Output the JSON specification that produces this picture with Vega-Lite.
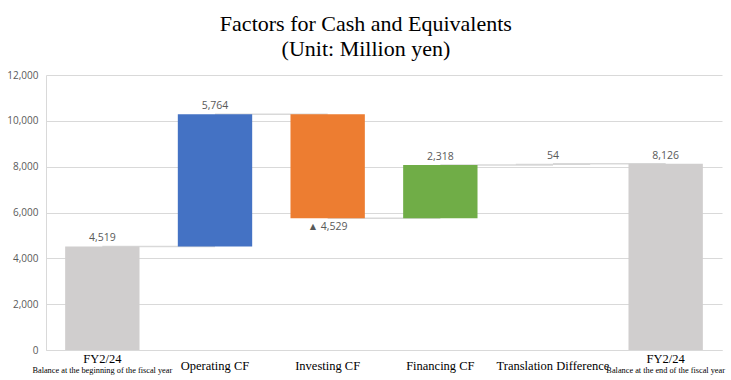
{
  "$schema": "https://vega.github.io/schema/vega-lite/v6.json",
  "width": 676,
  "height": 275,
  "autosize": "none",
  "padding": {"left": 46, "top": 75, "right": 9, "bottom": 30},
  "background": "white",
  "config": {"view": {"stroke": null}},
  "title": {
    "text": ["Factors for Cash and Equivalents", "(Unit: Million yen)"],
    "font": "Liberation Serif",
    "fontSize": 22,
    "fontWeight": "normal",
    "color": "black",
    "lineHeight": 25,
    "anchor": "middle",
    "frame": "bounds",
    "offset": 9
  },
  "datasets": {
    "steps": [
      {"cat": "start", "lo": 0, "hi": 4519, "label": "4,519", "sub": "Balance at the beginning of the fiscal year"},
      {"cat": "op", "lo": 4519, "hi": 10283, "label": "5,764", "sub": ""},
      {"cat": "inv", "lo": 5754, "hi": 10283, "label": "▲ 4,529", "sub": ""},
      {"cat": "fin", "lo": 5754, "hi": 8072, "label": "2,318", "sub": ""},
      {"cat": "tr", "lo": 8072, "hi": 8126, "label": "54", "sub": ""},
      {"cat": "end", "lo": 0, "hi": 8126, "label": "8,126", "sub": "Balance at the end of the fiscal year"}
    ],
    "links": [
      {"from": "start", "to": "op", "level": 4519},
      {"from": "op", "to": "inv", "level": 10283},
      {"from": "inv", "to": "fin", "level": 5754},
      {"from": "fin", "to": "tr", "level": 8072},
      {"from": "tr", "to": "end", "level": 8126}
    ]
  },
  "encoding": {
    "x": {
      "field": "cat",
      "type": "nominal",
      "sort": null,
      "scale": {"domain": ["start", "op", "inv", "fin", "tr", "end"], "paddingInner": 0.34, "paddingOuter": 0.17},
      "axis": {
        "title": null,
        "labelAngle": 0,
        "ticks": false,
        "domainColor": "#d9d9d9",
        "domainWidth": 1,
        "labelFont": "Liberation Serif",
        "labelFontSize": 12.5,
        "labelColor": "black",
        "labelBaseline": "middle",
        "labelPadding": {"condition": {"test": "datum.value === 'start' || datum.value === 'end'", "value": 8}, "value": 15},
        "labelExpr": "{'start':'FY2/24','op':'Operating CF','inv':'Investing CF','fin':'Financing CF','tr':'Translation Difference','end':'FY2/24'}[datum.value]"
      }
    }
  },
  "layer": [
    {
      "data": {"name": "links"},
      "mark": {"type": "rule", "color": "#d9d9d9", "strokeWidth": 1.5},
      "encoding": {
        "x": {"field": "from", "type": "nominal", "sort": null},
        "x2": {"field": "to"},
        "y": {"field": "level", "type": "quantitative"}
      }
    },
    {
      "data": {"name": "steps"},
      "mark": {"type": "bar"},
      "encoding": {
        "y": {
          "field": "lo",
          "type": "quantitative",
          "scale": {"domain": [0, 12000], "nice": false},
          "axis": {
            "title": null,
            "values": [0, 2000, 4000, 6000, 8000, 10000, 12000],
            "format": ",d",
            "ticks": false,
            "domain": true,
            "domainColor": "#d9d9d9",
            "gridColor": "#d9d9d9",
            "gridWidth": 1.2,
            "labelFont": "Open Sans",
            "labelFontSize": 10,
            "labelColor": "#595959",
            "labelPadding": 8
          }
        },
        "y2": {"field": "hi"},
        "color": {
          "field": "cat",
          "type": "nominal",
          "legend": null,
          "scale": {"domain": ["start", "op", "inv", "fin", "tr", "end"], "range": ["#d0cece", "#4472c4", "#ed7d31", "#70ad47", "#d6d6d6", "#d0cece"]}
        }
      }
    },
    {
      "data": {"name": "steps"},
      "transform": [{"filter": "datum.cat !== 'inv'"}],
      "mark": {"type": "text", "font": "Open Sans", "fontSize": 10.5, "color": "#595959", "baseline": "bottom", "dy": -3},
      "encoding": {
        "y": {"field": "hi", "type": "quantitative"},
        "text": {"field": "label"}
      }
    },
    {
      "data": {"name": "steps"},
      "transform": [{"filter": "datum.cat === 'inv'"}],
      "mark": {"type": "text", "font": "Open Sans", "fontSize": 10.5, "color": "#595959", "baseline": "top", "dy": 4},
      "encoding": {
        "y": {"field": "lo", "type": "quantitative"},
        "text": {"field": "label"}
      }
    },
    {
      "data": {"name": "steps"},
      "transform": [{"filter": "datum.sub !== ''"}],
      "mark": {"type": "text", "font": "Liberation Serif", "fontSize": 8.3, "color": "black", "baseline": "middle", "dy": 21},
      "encoding": {
        "y": {"datum": 0, "type": "quantitative"},
        "text": {"field": "sub"}
      }
    }
  ]
}
